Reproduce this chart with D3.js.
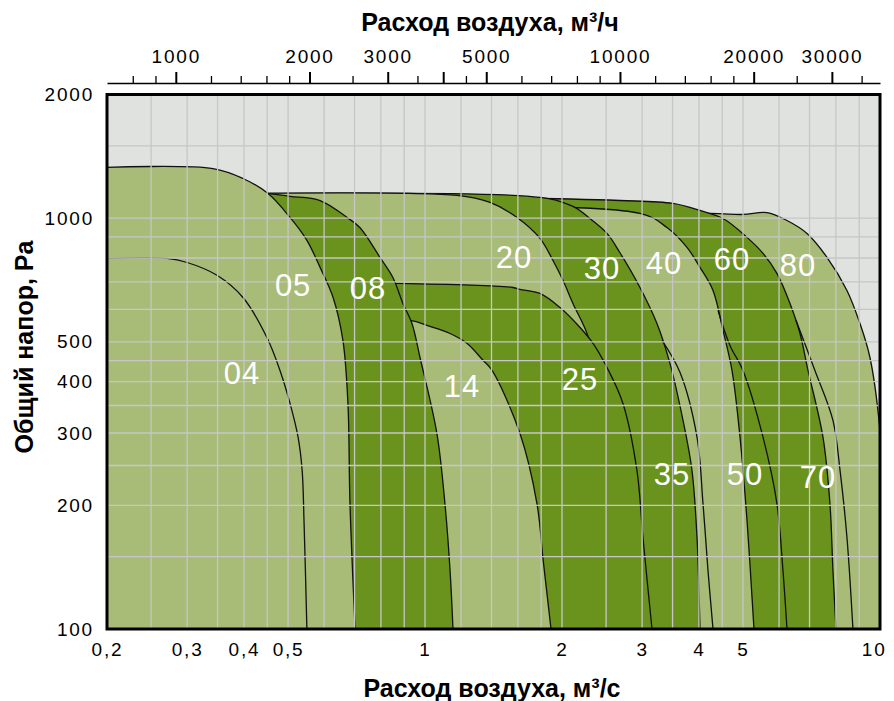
<!DOCTYPE html>
<html><head><meta charset="utf-8">
<script src="https://cdn.jsdelivr.net/npm/d3@7"></script>
<style>body{margin:0;background:#fff}</style>
</head><body><svg id="c" width="894" height="701"></svg>
<script>
// ---------- data ----------
const flowTickValues = [0.2,0.3,0.4,0.5,1,2,3,4,5,10];
const flowTickLabels = ["0,2","0,3","0,4","0,5","1","2","3","4","5","10"];
const flowGrid = [0.25,0.3,0.35,0.4,0.45,0.5,0.6,0.7,0.8,0.9,1,1.2,1.4,1.6,1.8,2,2.5,3,3.5,4,4.5,5,6,7,8,9];
const pressureTickValues = [100,200,300,400,500,1000,2000];
const pressureGrid = [150,200,250,300,350,400,450,500,600,700,800,900,1000,1500];
const hourMajor = [1000,2000,3000,4000,5000,10000,20000,30000];
const hourLabels = ["1000","2000","3000","","5000","10000","20000","30000"];
const hourMinor = [800,900,1200,1400,1600,1800,2500,3500,4500,6000,7000,8000,9000,12000,14000,16000,18000,25000,35000];

// fan envelopes [flow m3/s, pressure Pa]
const curve04 = [[0.2,798],[0.271,798],[0.300,780],[0.349,726],[0.398,641],[0.449,513],[0.480,426],[0.505,354],[0.526,293],[0.537,243],[0.542,184],[0.550,100]];
const curve05 = [[0.2,1329],[0.342,1320],[0.398,1249],[0.452,1148],[0.505,1004],[0.550,883],[0.588,759],[0.628,641],[0.660,504],[0.677,354],[0.684,202],[0.702,100]];
const curve08 = [[0.2,1148],[0.452,1148],[0.505,1130],[0.588,1104],[0.674,1004],[0.719,949],[0.796,803],[0.850,717],[0.894,620],[0.936,554],[0.975,458],[1.062,299],[1.106,202],[1.135,139],[1.152,100]];
const curve14 = [[0.2,564],[0.927,564],[1.010,548],[1.135,524],[1.236,496],[1.341,451],[1.404,426],[1.617,299],[1.762,202],[1.816,149],[1.892,100]];
const curve20 = [[0.2,1136],[1.176,1136],[1.389,1092],[1.593,1004],[1.789,893],[1.911,789],[2.010,706],[2.114,620],[2.270,524],[2.424,403],[2.55,272],[2.68,100]];
const curve25 = [[0.2,694],[0.868,694],[1.561,678],[1.617,671],[1.789,656],[1.980,606],[2.191,542],[2.340,496],[2.512,433],[2.723,354],[2.923,243],[3.013,167],[3.154,100]];
const curve30 = [[0.2,1136],[1.789,1123],[2.114,1068],[2.304,998],[2.512,918],[2.68,825],[2.968,678],[3.234,554],[3.454,443],[3.690,322],[3.862,243],[3.961,167],[4.021,100]];
const curve40 = [[0.2,1032],[2.968,1027],[3.402,949],[3.765,849],[4.021,759],[4.295,667],[4.518,533],[4.728,426],[4.924,293],[5.101,184],[5.285,100]];
const curve60 = [[0.2,1123],[1.194,1123],[2.68,1104],[3.508,1086],[4.021,1044],[4.518,998],[5.101,898],[5.532,821],[5.935,734],[6.341,620],[6.671,524],[6.947,426],[7.493,293],[7.762,202],[7.881,139],[8.003,100]];
const curve80 = [[0.2,1027],[4.230,1027],[4.998,1021],[5.643,1032],[6.245,987],[6.911,918],[7.647,803],[8.460,667],[9.036,554],[9.504,458],[10.0,304],[10.52,100]];
// branch curves (outline only)
const curve35 = [[3.317,504],[3.635,421],[3.961,293],[4.083,202],[4.187,139],[4.295,100]];
const curve50 = [[4.405,596],[4.680,490],[4.998,426],[5.532,293],[5.935,202],[6.119,139],[6.245,100]];
const curve70 = [[6.537,564],[7.194,426],[7.881,322],[8.17,243],[8.460,167],[8.72,100]];

const labelNames = ["04","05","08","14","20","25","30","35","40","50","60","70","80"];
const labelFlow = [0.396,0.513,0.749,1.206,1.569,2.191,2.449,3.489,3.351,5.049,4.728,7.306,6.603];
const labelPressure = [421,690,678,390,803,407,759,239,780,239,794,234,772];

const LIGHT = "#a8bb77", DARK = "#6a931d", BG = "#dfe2df", GRID = "#c6c7c6";

// ---------- scales ----------
const L = 107, R = 880, T = 94.5, B = 629;
const svg = d3.select("#c");
const x = d3.scaleLog().domain([0.2,10]).range([L,R]);
const y = d3.scaleLog().domain([100,2000]).range([B,T]);
const xTop = d3.scaleLog().domain([700,38500]).range([L,R]);

svg.append("defs").append("clipPath").attr("id","clip")
  .append("rect").attr("x",L).attr("y",T).attr("width",R-L).attr("height",B-T);

const plot = svg.append("g").attr("clip-path","url(#clip)");
plot.append("rect").attr("x",L).attr("y",T).attr("width",R-L).attr("height",B-T).attr("fill",BG);

const line = d3.line().x(d=>x(d[0])).y(d=>y(d[1])).curve(d3.curveCatmullRom.alpha(0.5));

function areaPath(pts){
  const last = pts[pts.length-1], first = pts[0];
  return line(pts) + "L" + x(last[0]) + "," + y(100) + "L" + x(0.2) + "," + y(100) + "L" + x(0.2) + "," + y(first[1]) + "Z";
}

const layers = [
  {pts:curve80, fill:LIGHT},{pts:curve60, fill:DARK},{pts:curve40, fill:LIGHT},
  {pts:curve30, fill:DARK},{pts:curve20, fill:LIGHT},{pts:curve25, fill:DARK},
  {pts:curve14, fill:LIGHT},{pts:curve08, fill:DARK},{pts:curve05, fill:LIGHT},{pts:curve04, fill:LIGHT}
];
layers.forEach(l=>{
  plot.append("path").attr("d",areaPath(l.pts)).attr("fill",l.fill)
    .attr("stroke","#111").attr("stroke-width",1.3).attr("stroke-linejoin","round");
});

const branches = [{pts:curve35, base:curve30},{pts:curve50, base:curve40},{pts:curve70, base:curve60}];
branches.forEach(b=>{
  const bl = b.base[b.base.length-1];
  plot.append("path").attr("d", line(b.pts) + "L" + x(bl[0]) + "," + y(100))
    .attr("fill","none").attr("stroke","#111").attr("stroke-width",1.3);
});

// grid
const grid = svg.append("g").attr("stroke",GRID).attr("stroke-width",1.3);
grid.selectAll(".gx").data(flowGrid).enter().append("line")
  .attr("x1",d=>x(d)).attr("x2",d=>x(d)).attr("y1",T).attr("y2",B);
grid.selectAll(".gy").data(pressureGrid).enter().append("line")
  .attr("x1",L).attr("x2",R).attr("y1",d=>y(d)).attr("y2",d=>y(d));

// labels in plot
svg.append("g").selectAll("text").data(labelNames).enter().append("text")
  .attr("x",(d,i)=>x(labelFlow[i])).attr("y",(d,i)=>y(labelPressure[i]))
  .attr("dy","0.36em").attr("text-anchor","middle")
  .attr("font-family","'Liberation Sans', Arial, sans-serif").attr("font-size",31)
  .attr("letter-spacing",1).attr("fill","#fff").text(d=>d);

// border
svg.append("rect").attr("x",L).attr("y",T).attr("width",R-L).attr("height",B-T)
  .attr("fill","none").attr("stroke","#000").attr("stroke-width",3);

const tickFont = g => g.selectAll("text").attr("font-family","'Liberation Sans', Arial, sans-serif")
  .attr("font-size",19).attr("letter-spacing",1.8).attr("fill","#000");

// bottom axis
const axB = svg.append("g").attr("transform",`translate(0,${B})`)
  .call(d3.axisBottom(x).tickValues(flowTickValues).tickSize(0).tickPadding(14)
    .tickFormat((d,i)=>flowTickLabels[i]));
axB.select(".domain").remove(); tickFont(axB);
axB.selectAll("text").filter(d=>d===10).attr("text-anchor","end").attr("dx",6);

// left axis
const axL = svg.append("g").attr("transform",`translate(${L},0)`)
  .call(d3.axisLeft(y).tickValues(pressureTickValues).tickSize(0).tickPadding(13).tickFormat(d3.format("d")));
axL.select(".domain").remove(); tickFont(axL);

// top axis
const TY = 83;
const axTm = svg.append("g").attr("transform",`translate(0,${TY})`)
  .call(d3.axisTop(xTop).tickValues(hourMinor).tickSize(7).tickSizeOuter(0).tickFormat(""));
axTm.select(".domain").remove();
axTm.selectAll("line").attr("stroke","#000").attr("stroke-width",1.3);
const axT = svg.append("g").attr("transform",`translate(0,${TY})`)
  .call(d3.axisTop(xTop).tickValues(hourMajor).tickSize(11).tickSizeOuter(0).tickPadding(9)
    .tickFormat((d,i)=>hourLabels[i]));
axT.select(".domain").attr("stroke","#000").attr("stroke-width",1.6);
axT.selectAll("line").attr("stroke","#000").attr("stroke-width",2);
tickFont(axT);

// titles
const titleFont = s => s.attr("font-family","'Liberation Sans', Arial, sans-serif").attr("font-weight","bold")
  .attr("font-size",25).attr("fill","#000").attr("text-anchor","middle");
svg.append("text").attr("x",490).attr("y",31).call(titleFont).text("Расход воздуха, м³/ч");
svg.append("text").attr("x",492).attr("y",697).call(titleFont).text("Расход воздуха, м³/с");
svg.append("text").attr("transform","translate(33,347) rotate(-90)").call(titleFont).text("Общий напор, Pa");
</script></body></html>
